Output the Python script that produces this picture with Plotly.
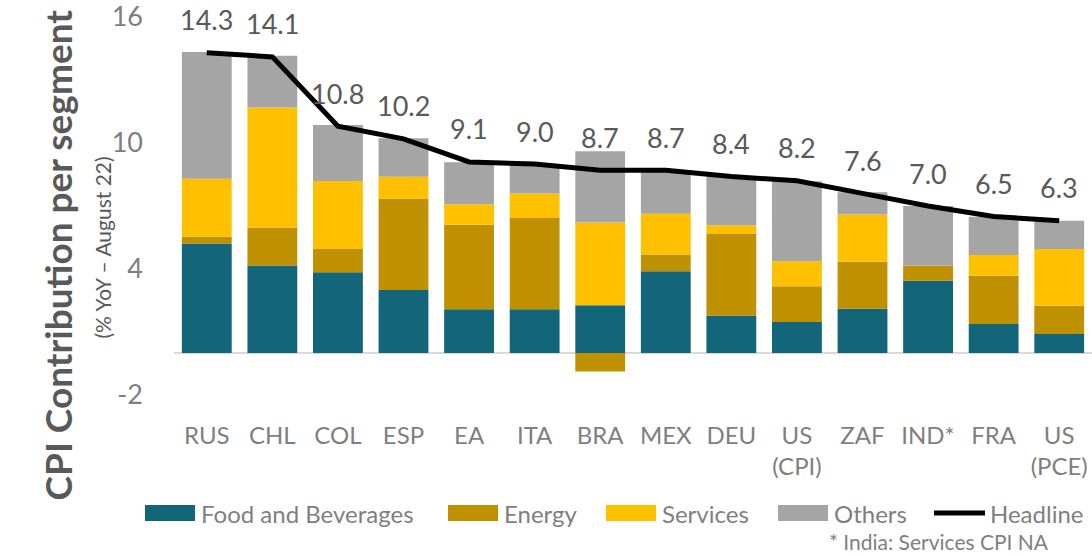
import plotly.graph_objects as go

# CPI contribution per segment, % YoY, August 2022
countries = ["RUS", "CHL", "COL", "ESP", "EA", "ITA", "BRA", "MEX", "DEU",
             "US<br>(CPI)", "ZAF", "IND*", "FRA", "US<br>(PCE)"]
food = [5.22, 4.17, 3.84, 3.00, 2.08, 2.08, 2.27, 3.89, 1.79, 1.48, 2.11, 3.44, 1.38, 0.90]
energy = [0.32, 1.81, 1.11, 4.36, 4.03, 4.35, -0.88, 0.80, 3.88, 1.70, 2.24, 0.73, 2.30, 1.35]
services = [2.76, 5.71, 3.24, 1.03, 0.97, 1.16, 3.94, 1.94, 0.41, 1.19, 2.24, 0.0, 0.99, 2.70]
others = [6.03, 2.46, 2.67, 1.84, 2.00, 1.40, 3.40, 2.07, 2.33, 3.81, 1.06, 2.83, 1.82, 1.35]
headline = [14.3, 14.1, 10.8, 10.2, 9.1, 9.0, 8.7, 8.7, 8.4, 8.2, 7.6, 7.0, 6.5, 6.3]
y_ticks = [-2, 4, 10, 16]

seg_names = ["Food and Beverages", "Energy", "Services", "Others"]
seg_colors = ["#13657a", "#bf9000", "#ffc000", "#a5a5a5"]
seg_values = [food, energy, services, others]

FONT = "Lato"
W, H = 1092, 556
L, R, T, B = 174, 0, 17, 161
pw, ph = W - L - R, H - T - B


def px_x(p):
    return (p - L) / pw


def px_y(p):
    return (H - B - p) / ph


fig = go.Figure()
for name, col, vals in zip(seg_names, seg_colors, seg_values):
    fig.add_trace(go.Bar(x=countries, y=vals, name=name, marker_color=col,
                         marker_line_width=0, showlegend=False))

fig.add_trace(go.Scatter(x=countries, y=headline, mode="lines", name="Headline",
                         line=dict(color="black", width=5), showlegend=False))

annots = []
for c, h in zip(countries, headline):
    annots.append(dict(x=c, y=h, text=f"{h:.1f}", yshift=33, showarrow=False,
                       font=dict(family=FONT, size=27, color="#595959")))

# y axis titles
annots.append(dict(x=px_x(32), y=px_y(255), xref="paper", yref="paper",
                   text="<b>CPI Contribution per segment</b>", textangle=-90,
                   showarrow=False, font=dict(family=FONT, size=37, color="#595959")))
annots.append(dict(x=px_x(87), y=px_y(248), xref="paper", yref="paper",
                   text="(% YoY – August 22)", textangle=-90,
                   showarrow=False, font=dict(family=FONT, size=21, color="#595959")))

# legend drawn by hand (wide swatches)
shapes = []
swatch_left = [145, 448, 606, 778]
ly = 513
for x0, name, col in zip(swatch_left, seg_names, seg_colors):
    shapes.append(dict(type="rect", xref="paper", yref="paper",
                       x0=px_x(x0), x1=px_x(x0 + 50), y0=px_y(ly + 8), y1=px_y(ly - 8),
                       fillcolor=col, line_width=0))
    annots.append(dict(x=px_x(x0 + 54), y=px_y(ly), xref="paper", yref="paper",
                       text=name, xanchor="left", yanchor="middle", showarrow=False,
                       font=dict(family=FONT, size=24, color="#7f7f7f")))
shapes.append(dict(type="line", xref="paper", yref="paper",
                   x0=px_x(934), x1=px_x(985), y0=px_y(ly), y1=px_y(ly),
                   line=dict(color="black", width=5)))
annots.append(dict(x=px_x(988), y=px_y(ly), xref="paper", yref="paper",
                   text="Headline", xanchor="left", yanchor="middle", showarrow=False,
                   font=dict(family=FONT, size=24, color="#7f7f7f")))

annots.append(dict(x=px_x(1051), y=px_y(541), xref="paper", yref="paper",
                   text="* India: Services CPI NA", xanchor="right", yanchor="middle",
                   showarrow=False, font=dict(family=FONT, size=21, color="#7f7f7f")))

fig.update_layout(
    width=W, height=H,
    margin=dict(l=L, r=R, t=T, b=B),
    barmode="relative", bargap=0.24,
    plot_bgcolor="white", paper_bgcolor="white",
    annotations=annots, shapes=shapes,
    showlegend=False,
)
fig.update_xaxes(type="category", showgrid=False, showline=False, ticks="",
                 automargin=False,
                 tickfont=dict(family=FONT, size=24, color="#7f7f7f"),
                 ticklabelstandoff=24)
fig.update_yaxes(range=[-2, 16], tickvals=y_ticks, ticktext=[str(v) for v in y_ticks],
                 showgrid=False, automargin=False, ticklabeloverflow="allow",
                 zeroline=True, zerolinecolor="#d9d9d9", zerolinewidth=2,
                 showline=False, ticks="",
                 tickfont=dict(family=FONT, size=27, color="#7f7f7f"),
                 ticklabelstandoff=30)

# page body margin would push the fixed-size figure off the window
fig.write_html("out.html", config={"displayModeBar": False},
               post_script="document.body.style.margin='0';")
